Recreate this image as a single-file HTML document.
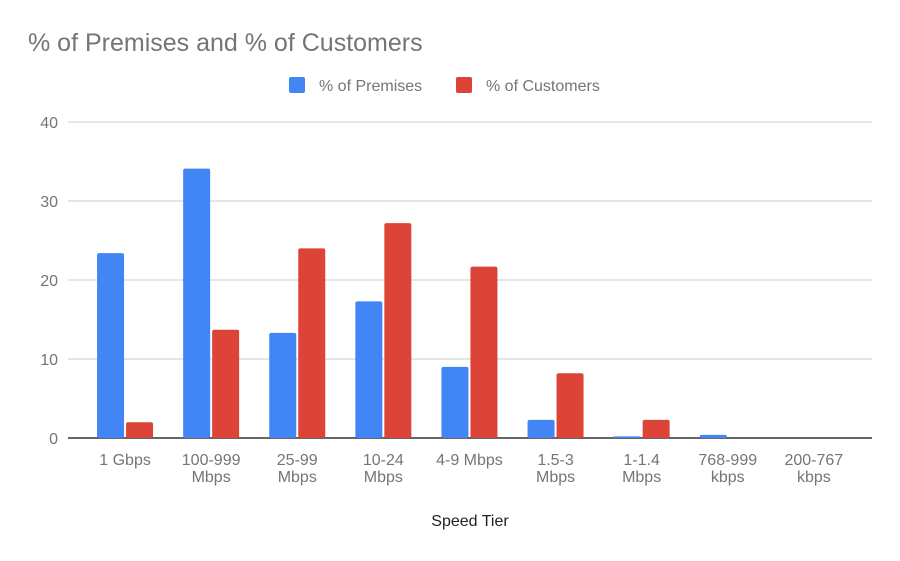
<!DOCTYPE html>
<html><head><meta charset="utf-8"><style>
body{margin:0;background:#fff;font-family:"Liberation Sans",Arial,sans-serif;}
svg text{font-family:"Liberation Sans",Arial,sans-serif;}
</style></head><body>
<svg width="900" height="556" xmlns="http://www.w3.org/2000/svg">
<rect width="900" height="556" fill="#fff"/>
<text x="28" y="51" font-size="25" fill="#757575">% of Premises and % of Customers</text>
<g>
<rect x="289" y="77" width="16" height="16" rx="2" fill="#4285f4"/>
<text x="319" y="91" font-size="16" fill="#757575">% of Premises</text>
<rect x="456" y="77" width="16" height="16" rx="2" fill="#db4437"/>
<text x="486" y="91" font-size="16" fill="#757575">% of Customers</text>
</g>
<g id="grid"></g>
<g id="bars"></g>
<g id="xl"></g>
<text x="470" y="526" font-size="16" fill="#222" text-anchor="middle">Speed Tier</text>
</svg>
<script>
const categories=[["1 Gbps"],["100-999","Mbps"],["25-99","Mbps"],["10-24","Mbps"],["4-9 Mbps"],["1.5-3","Mbps"],["1-1.4","Mbps"],["768-999","kbps"],["200-767","kbps"]];
const premises=[23.4,34.1,13.3,17.3,9.0,2.3,0.2,0.4,0];
const customers=[2.0,13.7,24.0,27.2,21.7,8.2,2.3,0,0];
const yTicks=[0,10,20,30,40];
const NS="http://www.w3.org/2000/svg";
const y0=438,y1=122,yMax=40,left=82,step=86.1;
const ys=v=>y0-(v/yMax)*(y0-y1);
const xc=i=>left+step*(i+0.5);
function mk(t,a,p){const e=document.createElementNS(NS,t);for(const k in a)e.setAttribute(k,a[k]);p.appendChild(e);return e;}
const grid=document.getElementById('grid');
yTicks.forEach(t=>{
 const l=mk('line',{x1:68,x2:872,y1:ys(t),y2:ys(t),stroke:t===0?'#333':'#ccc','stroke-width':t===0?1.5:1},grid);
 
 
 const tx=mk('text',{x:58,y:ys(t)+6,'font-size':16,fill:'#757575','text-anchor':'end'},grid);
 tx.textContent=t;
 
 
});
const bars=document.getElementById('bars'),xl=document.getElementById('xl');
const bw=27;
categories.forEach((c,i)=>{
 const cx=xc(i);
 [[premises[i],'#4285f4',cx-bw-1,'premises'],[customers[i],'#db4437',cx+1,'customers']].forEach(([v,col,x,n])=>{
  if(v<=0)return;
  const h=y0-ys(v);
  const r=mk('rect',{x:x,y:ys(v),width:bw,height:h,fill:col,rx:Math.min(2,h/2)},bars);
  
  
 });
 c.forEach((line,j)=>{
  const t=mk('text',{x:cx,y:465+j*17,'font-size':16,fill:'#757575','text-anchor':'middle'},xl);
  t.textContent=line;
  
  
 });
});
</script>
</body></html>
